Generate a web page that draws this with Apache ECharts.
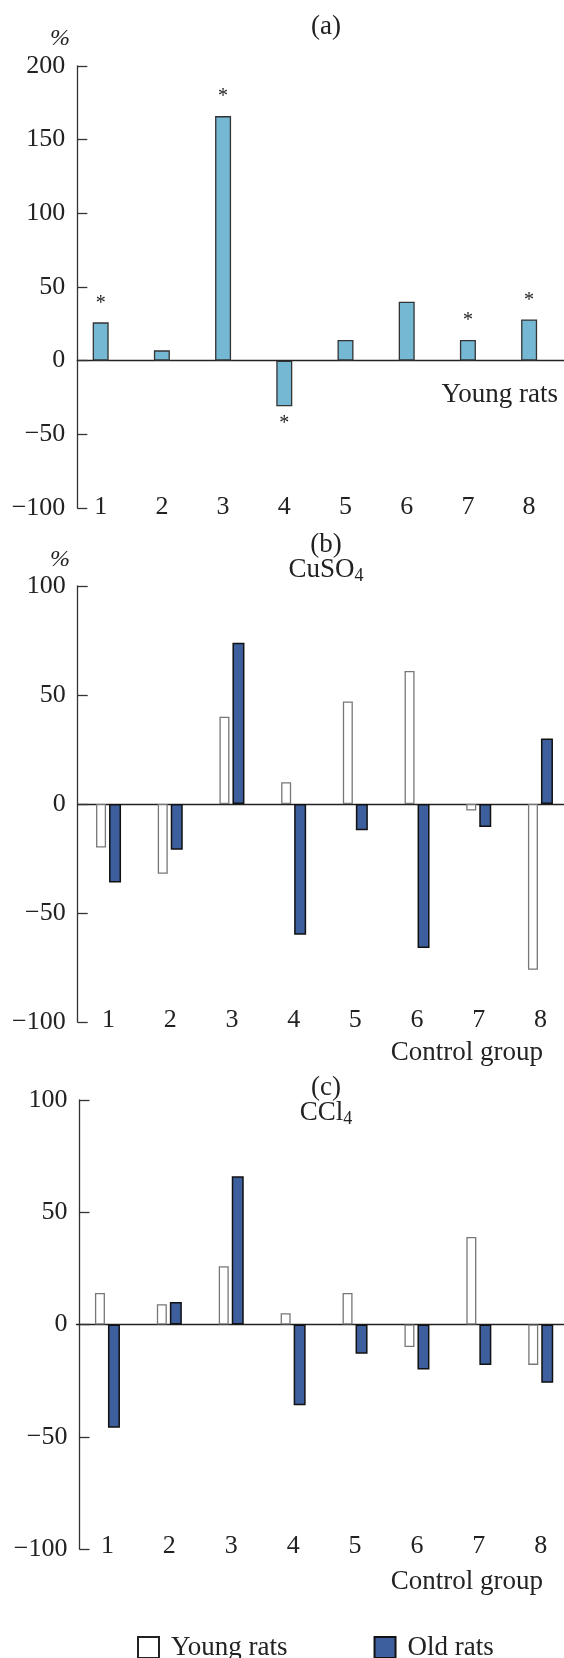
<!DOCTYPE html>
<html>
<head>
<meta charset="utf-8">
<script src="https://cdn.jsdelivr.net/npm/echarts@6/dist/echarts.min.js"></script>
<style>
    html, body { margin: 0; padding: 0; background: #fff; }
    #main { width: 564px; height: 1658px; }
</style>
</head>
<body>
<div id="main"></div>
<script>
// 数据
const categories = [1, 2, 3, 4, 5, 6, 7, 8];
// (a) young rats
const a_values = [26, 7, 166, -31, 14, 40, 14, 28];
const a_sig = [true, false, true, true, false, false, true, true];
// (b) CuSO4
const b_young = [-20, -32, 40, 10, 47, 61, -3, -76];
const b_old = [-36, -21, 74, -60, -12, -66, -10.5, 30];
// (c) CCl4
const c_young = [14, 9, 26, 5, 14, -10, 39, -18];
const c_old = [-46, 10, 66, -36, -13, -20, -18, -26];
const a_ticks = [-100, -50, 0, 50, 100, 150, 200];
const bc_ticks = [-100, -50, 0, 50, 100];

const FONT = 'Liberation Serif';
const INK = '#222';
const BLUE = '#3e5f9d';
const LIGHT = '#74b8d3';
const TICK_SIZE = 26;
const TEXT_SIZE = 27;

function fmtTick(v) {
    return String(v).replace('-', '\u2212');
}

function yAxisOf(grid, min, max, offset) {
    return {
        type: 'value', gridIndex: grid, min: min, max: max, interval: 50,
        offset: offset || 0,
        axisLine: {show: true, onZero: false, lineStyle: {color: '#333', width: 1.3}},
        axisTick: {show: true, inside: true, length: 10, lineStyle: {color: '#333', width: 1.3}},
        splitLine: {show: false},
        axisLabel: {
            fontFamily: FONT, fontSize: TICK_SIZE, color: INK, margin: 12,
            formatter: fmtTick
        }
    };
}

// 类别轴：一条在底部放标签，一条在0处画线
function catAxes(grid, margin) {
    return [
        {
            type: 'category', gridIndex: grid, data: categories, position: 'bottom',
            axisLine: {show: false, onZero: false}, axisTick: {show: false},
            axisLabel: {fontFamily: FONT, fontSize: TICK_SIZE, color: INK, margin: margin, verticalAlign: 'middle'}
        },
        {
            type: 'category', gridIndex: grid, data: categories, position: 'bottom',
            axisLine: {show: true, onZero: true, lineStyle: {color: INK, width: 1.3}},
            axisTick: {show: false}, axisLabel: {show: false}
        }
    ];
}

let a_data = [];
for (let i = 0; i < categories.length; i++) {
    let v = a_values[i];
    a_data.push({
        value: [categories[i], v],
        label: {show: a_sig[i], position: v < 0 ? 'bottom' : 'top', distance: v < 0 ? 7 : 9}
    });
}

function pairSeries(xi, yi, young, old) {
    return [
        {
            name: 'Young rats', type: 'bar', xAxisIndex: xi, yAxisIndex: yi,
            data: young, barWidth: 10, barGap: '30%',
            itemStyle: {color: '#fff', borderColor: '#777', borderWidth: 1.3}
        },
        {
            name: 'Old rats', type: 'bar', xAxisIndex: xi, yAxisIndex: yi,
            data: old, barWidth: 12, barGap: '30%',
            itemStyle: {color: BLUE, borderColor: '#111', borderWidth: 1.5}
        }
    ];
}

function txt(text, x, top, align, extra) {
    let t = {
        text: text, top: top,
        textStyle: Object.assign({fontFamily: FONT, fontSize: TEXT_SIZE, fontWeight: 'normal', color: INK,
            rich: {sub: {fontFamily: FONT, fontSize: 18, color: INK, padding: [12, 0, 0, 0]}}}, extra || {})
    };
    if (align == 'right') {
        t.right = x;
    } else if (align == 'center') {
        t.left = x; t.textAlign = 'center';
    } else {
        t.left = x;
    }
    return t;
}

let chart = echarts.init(document.getElementById('main'));
let option = {
    animation: false,
    title: [
        txt('(a)', 321, 8, 'center'),
        txt('%', 45, 22, 'left', {fontStyle: 'italic', fontSize: 24}),
        txt('Young rats', 1, 376, 'right'),
        txt('(b)', 321, 526, 'center'),
        txt('%', 45, 543, 'left', {fontStyle: 'italic', fontSize: 24}),
        txt('CuSO{sub|4}', 321, 550, 'center'),
        txt('Control group', 16, 1034, 'right'),
        txt('(c)', 321, 1069, 'center'),
        txt('CCl{sub|4}', 321, 1093, 'center'),
        txt('Control group', 16, 1563, 'right')
    ],
    legend: {
        data: [
            {name: 'Young rats', itemStyle: {color: '#fff', borderColor: '#222', borderWidth: 2}},
            {name: 'Old rats', itemStyle: {color: BLUE, borderColor: '#111', borderWidth: 2}}
        ],
        left: 132, top: 1629, icon: 'rect', itemWidth: 21, itemHeight: 21, itemGap: 86,
        selectedMode: false,
        textStyle: {fontFamily: FONT, fontSize: TEXT_SIZE, color: INK, padding: [0, 0, 0, 7]}
    },
    grid: [
        {left: 77.3, top: 66, height: 442, right: 0, outerBoundsMode: 'none'},
        {left: 77.7, top: 586, height: 436, right: -7.3, outerBoundsMode: 'none'},
        {left: 76.5, top: 1100, height: 449, right: -7.7, outerBoundsMode: 'none'}
    ],
    xAxis: [
        {
            type: 'value', gridIndex: 0, min: 0.618, max: 8.57, position: 'bottom',
            axisLine: {show: false, onZero: false}, splitLine: {show: false},
            axisTick: {show: false},
            axisLabel: {fontFamily: FONT, fontSize: TICK_SIZE, color: INK, margin: -1, verticalAlign: 'middle',
                customValues: categories}
        },
        {
            type: 'value', gridIndex: 0, min: 0.618, max: 8.57, position: 'bottom',
            axisLine: {show: true, onZero: true, lineStyle: {color: INK, width: 1.3}},
            splitLine: {show: false}, axisTick: {show: false}, axisLabel: {show: false}
        }
    ].concat(catAxes(1, -2), catAxes(2, -3)),
    yAxis: [
        yAxisOf(0, a_ticks[0], a_ticks[a_ticks.length - 1]),
        yAxisOf(1, bc_ticks[0], bc_ticks[bc_ticks.length - 1]),
        yAxisOf(2, bc_ticks[0], bc_ticks[bc_ticks.length - 1], -3)
    ],
    series: [
        {
            name: 'a', type: 'bar', xAxisIndex: 0, yAxisIndex: 0,
            data: a_data, barWidth: 16,
            itemStyle: {color: LIGHT, borderColor: '#333', borderWidth: 1.3},
            label: {formatter: '*', fontFamily: FONT, fontSize: 20, color: INK}
        }
    ].concat(pairSeries(2, 1, b_young, b_old), pairSeries(4, 2, c_young, c_old))
};
chart.setOption(option);
</script>
</body>
</html>
